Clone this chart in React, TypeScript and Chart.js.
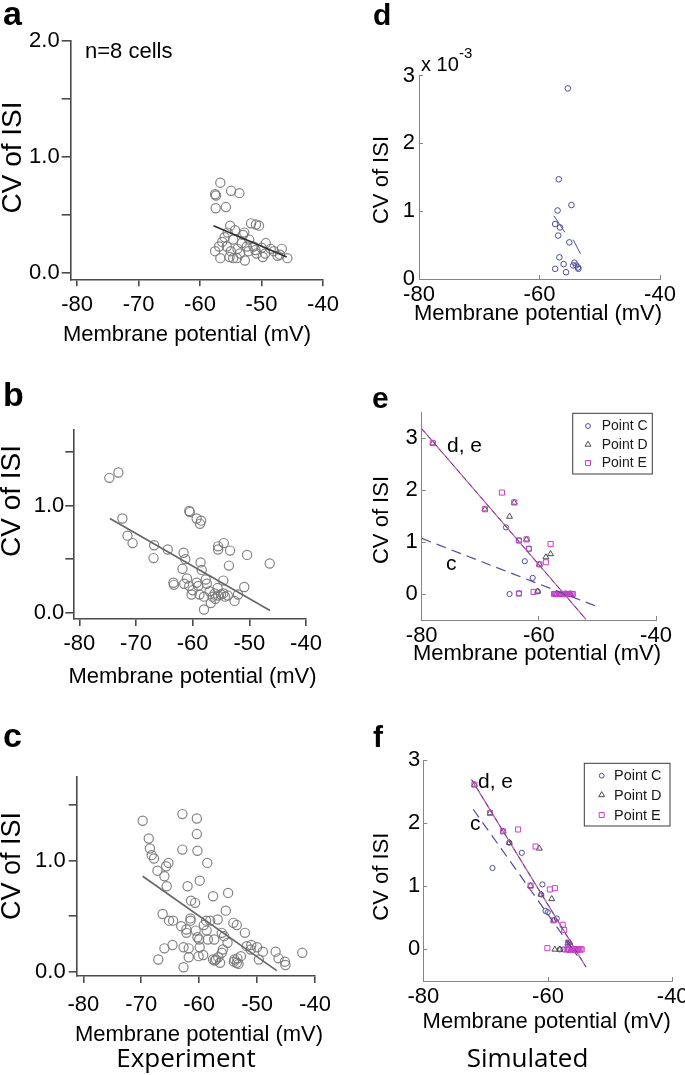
import { useEffect, useRef } from 'react';
import { Chart, registerables } from 'chart.js';
Chart.register(...registerables);

const SANS = '"Liberation Sans", Arial, Helvetica, sans-serif';
const HUMAN = '"Open Sans", "Noto Sans", sans-serif';

// ---------- tick values ----------
const EXP_X_TICKS = [-80, -70, -60, -50, -40];
const SIM_X_TICKS = [-80, -60, -40];
const A_Y_TICKS = [0, 0.5, 1, 1.5, 2];
const A_Y_LABELLED = [0, 1, 2];
const BC_Y_TICKS = [0, 0.5, 1, 1.5];
const BC_Y_LABELLED = [0, 1];
const D_Y_TICKS = [0, 1, 2, 3];
const EF_Y_TICKS = [0, 1, 2, 3];

// ---------- panel a (experiment, n=8 cells) ----------
const A_MV = [-56.7, -57.55, -57.4, -54.95, -53.6, -57.45, -55.8, -55.1, -51.7, -50.9, -50.4, -54.3, -52.8, -56.4, -54.6, -52.4, -51.3, -49.3, -57.55, -55.65, -53.9, -55.2, -53.5, -52.1, -50.8, -49.4, -48.5, -46.7, -45.8, -47.4, -56.7, -54.6, -52.7, -56.0, -53.0, -51.0, -48.0, -47.0, -55.0, -53.2, -50.0, -49.8, -56.9, -54.0, -55.5, -52.0];
const A_CV = [0.78, 0.68, 0.67, 0.71, 0.69, 0.56, 0.57, 0.41, 0.43, 0.42, 0.41, 0.37, 0.35, 0.27, 0.29, 0.23, 0.23, 0.26, 0.19, 0.23, 0.21, 0.14, 0.17, 0.19, 0.17, 0.17, 0.21, 0.21, 0.13, 0.15, 0.13, 0.13, 0.11, 0.31, 0.33, 0.20, 0.19, 0.16, 0.19, 0.26, 0.22, 0.14, 0.23, 0.13, 0.35, 0.29];
const A_FIT_MV = [-57.8, -45.9];
const A_FIT_CV = [0.41, 0.14];

// ---------- panel b ----------
const B_MV = [-74.7, -73.1, -72.4, -71.5, -70.6, -66.8, -66.9, -64.4, -61.6, -61.3, -61.8, -63.4, -63.3, -61.0, -60.6, -60.6, -60.5, -59.3, -58.5, -58.7, -58.6, -58.4, -57.7, -57.5, -59.3, -60.0, -60.2, -58.8, -58.0, -58.0, -56.8, -56.5, -56.1, -55.5, -55.6, -55.0, -54.6, -54.3, -53.8, -54.6, -55.5, -55.5, -54.5, -53.4, -53.6, -52.6, -52.0, -50.9, -50.4, -46.4, -57.0, -56.0, -61.5, -59.0];
const B_CV = [1.26, 1.31, 0.88, 0.72, 0.65, 0.63, 0.51, 0.59, 0.56, 0.50, 0.41, 0.28, 0.26, 0.32, 0.25, 0.95, 0.94, 0.88, 0.86, 0.83, 0.47, 0.40, 0.31, 0.27, 0.28, 0.21, 0.17, 0.17, 0.15, 0.03, 0.09, 0.15, 0.18, 0.16, 0.23, 0.17, 0.18, 0.15, 0.16, 0.30, 0.59, 0.62, 0.65, 0.58, 0.44, 0.11, 0.17, 0.24, 0.54, 0.46, 0.20, 0.13, 0.27, 0.25];
const B_FIT_MV = [-74.6, -46.35];
const B_FIT_CV = [0.88, 0.02];

// ---------- panel c ----------
const C_MV = [-69.75, -62.9, -60.4, -60.4, -68.7, -68.5, -68.2, -67.8, -62.9, -60.3, -58.6, -65.3, -65.7, -67.2, -66.0, -65.6, -59.9, -62.0, -57.6, -55.0, -61.4, -60.7, -55.4, -66.3, -65.2, -64.5, -63.1, -61.5, -61.5, -62.2, -62.2, -60.6, -58.8, -58.1, -59.2, -56.8, -58.7, -60.3, -60.0, -58.5, -57.4, -56.1, -55.7, -54.1, -53.5, -52.1, -55.1, -66.0, -64.6, -62.7, -61.8, -59.9, -67.05, -62.7, -61.8, -60.1, -59.3, -57.6, -57.1, -56.7, -56.1, -55.9, -56.4, -53.9, -53.5, -53.4, -52.8, -51.8, -51.0, -51.1, -50.0, -49.0, -49.7, -46.8, -46.3, -45.2, -45.1, -42.2, -53.2, -57.3, -54.0];
const C_CV = [1.36, 1.42, 1.38, 1.24, 1.20, 1.11, 1.05, 1.02, 1.10, 1.09, 0.98, 0.98, 0.95, 0.91, 0.86, 0.77, 0.82, 0.77, 0.68, 0.71, 0.64, 0.62, 0.55, 0.52, 0.46, 0.46, 0.41, 0.48, 0.46, 0.38, 0.35, 0.37, 0.46, 0.46, 0.42, 0.47, 0.37, 0.31, 0.29, 0.29, 0.29, 0.35, 0.32, 0.44, 0.42, 0.35, 0.26, 0.21, 0.24, 0.22, 0.21, 0.22, 0.11, 0.04, 0.13, 0.14, 0.15, 0.11, 0.11, 0.13, 0.17, 0.20, 0.08, 0.11, 0.08, 0.12, 0.14, 0.23, 0.24, 0.20, 0.22, 0.18, 0.11, 0.18, 0.12, 0.09, 0.06, 0.17, 0.07, 0.10, 0.09];
const C_FIT_MV = [-69.75, -46.6];
const C_FIT_CV = [0.86, 0.01];

// ---------- panel d (simulated, CV in units of 1e-3) ----------
const D_MV = [-55.3, -56.8, -54.7, -57.0, -57.4, -56.6, -56.9, -55.05, -56.7, -56.0, -57.4, -55.6, -54.2, -53.9, -53.55, -54.4, -53.6];
const D_CV = [2.81, 1.47, 1.09, 1.01, 0.81, 0.76, 0.64, 0.54, 0.32, 0.22, 0.15, 0.10, 0.24, 0.20, 0.15, 0.20, 0.17];
const D_FIT1_MV = [-57.6, -55.8];
const D_FIT1_CV = [0.93, 0.69];
const D_FIT2_MV = [-54.4, -53.2];
const D_FIT2_CV = [0.58, 0.37];

// ---------- panel e ----------
const E_C_MV = [-65.6, -63.4, -61.7, -62.4, -61.05, -65.0, -63.4, -60.2, -57.2, -56.4, -55.6, -54.8];
const E_C_CV = [1.28, 1.03, 0.87, 0.63, 0.31, 0, 0.01, 0.05, 0, 0, 0, 0];
const E_D_MV = [-78.1, -69.2, -64.2, -65.0, -62.1, -59.9, -58.8, -58.0, -60.2, -57.0, -56.2, -55.4, -54.6];
const E_D_CV = [2.90, 1.63, 1.76, 1.49, 1.05, 0.57, 0.71, 0.77, 0.05, 0, 0, 0, 0];
const E_E_MV = [-78.1, -69.2, -66.3, -64.2, -63.4, -62.1, -61.7, -59.9, -58.8, -58.0, -63.4, -60.9, -57.4, -57.2, -57.0, -56.8, -56.6, -56.4, -56.2, -56.0, -55.8, -55.6, -55.4, -55.2, -55.0, -54.8, -54.6, -54.4, -54.2];
const E_E_CV = [2.90, 1.63, 1.95, 1.76, 1.03, 1.05, 0.87, 0.57, 0.61, 0.96, 0.01, 0.04, 0, 0, 0, 0, 0, 0, 0, 0, 0, 0, 0, 0, 0, 0, 0, 0, 0];
const E_FIT_DE_MV = [-80, -51.95];
const E_FIT_DE_CV = [3.18, -0.49];
const E_FIT_C_MV = [-80, -50.1];
const E_FIT_C_CV = [1.07, -0.24];

// ---------- panel f ----------
const F_C_MV = [-66.2, -64.2, -68.9, -60.9, -61.1, -60.4, -60.05, -58.6, -58.1, -57.5, -56.8, -56.0];
const F_C_CV = [1.69, 1.53, 1.29, 1.03, 0.87, 0.61, 0.59, 0.49, 0, 0, 0, 0];
const F_D_MV = [-71.8, -69.3, -67.2, -66.2, -61.4, -62.8, -61.1, -59.4, -59.1, -56.8, -56.5, -58.9, -58.1, -56.3, -55.5];
const F_D_CV = [2.61, 2.16, 1.87, 1.69, 1.60, 1.01, 0.87, 0.80, 0.46, 0.10, 0.11, 0, 0, 0, 0];
const F_E_MV = [-71.8, -69.3, -67.2, -64.8, -62.0, -62.8, -59.7, -58.9, -59.1, -57.65, -57.4, -56.8, -60.1, -57.0, -56.8, -56.6, -56.4, -56.2, -56.0, -55.8, -55.6, -55.4, -55.2, -55.0, -54.8, -54.6];
const F_E_CV = [2.61, 2.16, 1.87, 1.90, 1.63, 1.01, 0.95, 0.97, 0.46, 0.39, 0.31, 0.10, 0.02, 0, 0, 0, 0, 0, 0, 0, 0, 0, 0, 0, 0, 0];
const F_FIT_DE_MV = [-72.25, -53.9];
const F_FIT_DE_CV = [2.69, -0.28];
const F_FIT_C_MV = [-72.0, -55.3];
const F_FIT_C_CV = [2.22, -0.1];

const LEGEND_LABELS = ['Point C', 'Point D', 'Point E'];
const X_TITLE = 'Membrane potential (mV)';
const Y_TITLE = 'CV of ISI';

// ---------- helpers ----------
const zip = (xs: number[], ys: number[]) => xs.map((x, i) => ({ x, y: ys[i] }));

const COL_C = '#4b4b9c';
const COL_D = '#4a4a4a';
const COL_E = '#cc3fcc';

const expPoints = (xs: number[], ys: number[]) => ({
  data: zip(xs, ys),
  pointStyle: 'circle',
  pointRadius: 4.6,
  pointBorderWidth: 1.2,
  pointBorderColor: 'rgba(118,118,118,0.9)',
  pointBackgroundColor: 'rgba(0,0,0,0)',
  showLine: false,
  order: 2,
});

const simPoints = (label: string, xs: number[], ys: number[], style: string, color: string, r: number, order: number) => ({
  label,
  data: zip(xs, ys),
  pointStyle: style,
  pointRadius: r,
  pointBorderWidth: 1,
  pointBorderColor: color,
  pointBackgroundColor: 'rgba(0,0,0,0)',
  showLine: false,
  order,
});

const lineDs = (xs: number[], ys: number[], color: string, width: number, dash: number[] = [], order = 0) => ({
  data: zip(xs, ys),
  showLine: true,
  borderColor: color,
  borderWidth: width,
  borderDash: dash,
  pointRadius: 0,
  fill: false,
  tension: 0,
  order,
});

type Txt = {
  t: string; x: number; y: number; size: number; bold?: boolean; family?: string;
  align?: CanvasTextAlign; base?: CanvasTextBaseline; rot?: number; color?: string;
};
type LegendSpec = { x1: number; y1: number; x2: number; y2: number; rows: number[]; markX: number; textX: number; size: number };
type PanelSpec = {
  cx: number; cy: number; cw: number; ch: number;
  L: number; T: number; R: number; B: number;
  xMin: number; xMax: number; xTicks: number[];
  yMin: number; yMax: number; yTicks: number[]; yFmt: (v: number) => string;
  matlab: boolean;
  xPad: number; yPad: number; xTick: number; yTick: number;
  datasets: any[];
  texts: Txt[];
  legend?: LegendSpec;
};

const YW = 45;
const XH = 40;

function drawMarker(ctx: CanvasRenderingContext2D, style: string, x: number, y: number, color: string) {
  ctx.save();
  ctx.strokeStyle = color;
  ctx.lineWidth = 1;
  ctx.beginPath();
  if (style === 'circle') {
    ctx.arc(x, y, 2.4, 0, Math.PI * 2);
  } else if (style === 'triangle') {
    const r = 3.4;
    ctx.moveTo(x, y - r);
    ctx.lineTo(x + r * 0.866, y + r * 0.5);
    ctx.lineTo(x - r * 0.866, y + r * 0.5);
    ctx.closePath();
  } else {
    ctx.rect(x - 2.5, y - 2.5, 5, 5);
  }
  ctx.stroke();
  ctx.restore();
}

function overlay(spec: PanelSpec) {
  return {
    id: 'overlay',
    afterDraw(chart: any) {
      const ctx: CanvasRenderingContext2D = chart.ctx;
      const ox = spec.cx;
      const oy = spec.cy;
      ctx.save();
      for (const t of spec.texts) {
        ctx.save();
        ctx.font = `${t.bold ? 'bold ' : ''}${t.size}px ${t.family ?? SANS}`;
        ctx.fillStyle = t.color ?? '#000';
        ctx.textAlign = t.align ?? 'left';
        ctx.textBaseline = t.base ?? 'alphabetic';
        ctx.translate(t.x - ox, t.y - oy);
        if (t.rot) ctx.rotate(t.rot);
        ctx.fillText(t.t, 0, 0);
        ctx.restore();
      }
      const lg = spec.legend;
      if (lg) {
        ctx.fillStyle = '#fff';
        ctx.fillRect(lg.x1 - ox, lg.y1 - oy, lg.x2 - lg.x1, lg.y2 - lg.y1);
        ctx.strokeStyle = '#3a3a3a';
        ctx.lineWidth = 1;
        ctx.strokeRect(lg.x1 - ox, lg.y1 - oy, lg.x2 - lg.x1, lg.y2 - lg.y1);
        const items = chart.data.datasets.filter((d: any) => d.label);
        items.forEach((d: any, i: number) => {
          const y = lg.rows[i] - oy;
          drawMarker(ctx, d.pointStyle, lg.markX - ox, y, d.pointBorderColor);
          ctx.fillStyle = '#1a1a1a';
          ctx.font = `${lg.size}px ${SANS}`;
          ctx.textAlign = 'left';
          ctx.textBaseline = 'middle';
          ctx.fillText(d.label, lg.textX - ox, y + 0.5);
        });
      }
      ctx.restore();
    },
  };
}

function makeConfig(spec: PanelSpec) {
  const axisColor = spec.matlab ? '#858585' : '#4a4a4a';
  const axisWidth = spec.matlab ? 1 : 1.6;
  const tickFont = { family: SANS, size: 22 };
  return {
    type: 'scatter',
    data: { datasets: spec.datasets },
    options: {
      animation: false,
      responsive: false,
      events: [],
      layout: {
        padding: {
          left: spec.L - spec.cx - YW,
          top: spec.T - spec.cy,
          right: spec.cx + spec.cw - spec.R,
          bottom: spec.cy + spec.ch - spec.B - XH,
        },
      },
      plugins: { legend: { display: false }, tooltip: { enabled: false }, title: { display: false } },
      scales: {
        x: {
          type: 'linear',
          position: 'bottom',
          min: spec.xMin,
          max: spec.xMax,
          afterBuildTicks: (sc: any) => { sc.ticks = spec.xTicks.map((v) => ({ value: v })); },
          afterFit: (sc: any) => { sc.height = XH; sc.paddingLeft = 0; sc.paddingRight = 0; },
          border: { display: true, color: axisColor, width: axisWidth },
          grid: { display: true, drawOnChartArea: false, drawTicks: true, tickLength: spec.xTick, color: axisColor, tickColor: axisColor, lineWidth: axisWidth, tickWidth: axisWidth },
          ticks: { autoSkip: false, maxRotation: 0, minRotation: 0, padding: spec.xPad, color: '#000', font: tickFont, callback: (v: any) => String(v) },
        },
        y: {
          type: 'linear',
          position: 'left',
          min: spec.yMin,
          max: spec.yMax,
          afterBuildTicks: (sc: any) => { sc.ticks = spec.yTicks.map((v) => ({ value: v })); },
          afterFit: (sc: any) => { sc.width = YW; sc.paddingTop = 0; sc.paddingBottom = 0; },
          border: { display: true, color: axisColor, width: axisWidth },
          grid: { display: true, drawOnChartArea: false, drawTicks: true, tickLength: spec.yTick, color: axisColor, tickColor: axisColor, lineWidth: axisWidth, tickWidth: axisWidth },
          ticks: { autoSkip: false, padding: spec.yPad, color: '#000', font: tickFont, callback: (v: any) => spec.yFmt(Number(v)) },
        },
      },
    },
    plugins: [overlay(spec)],
  };
}

const ROT = -Math.PI / 2;
const fmtExp = (lab: number[]) => (v: number) => (lab.some((l) => Math.abs(l - v) < 1e-9) ? v.toFixed(1) : '');
const fmtInt = (v: number) => String(v);

const PANELS: PanelSpec[] = [
  // a
  {
    cx: 0, cy: 0, cw: 340, ch: 355,
    L: 70.7, T: 41, R: 323, B: 279.3,
    xMin: -81.03, xMax: -40, xTicks: EXP_X_TICKS,
    yMin: -0.052, yMax: 2.0, yTicks: A_Y_TICKS, yFmt: fmtExp(A_Y_LABELLED),
    matlab: false, xPad: 5, yPad: 2, xTick: 7, yTick: 9,
    datasets: [lineDs(A_FIT_MV, A_FIT_CV, '#2e2e2e', 1.6), expPoints(A_MV, A_CV)],
    texts: [
      { t: 'a', x: 3, y: 25, size: 34, bold: true },
      { t: 'n=8 cells', x: 85, y: 58, size: 22 },
      { t: Y_TITLE, x: 13, y: 157.5, size: 28, align: 'center', base: 'middle', rot: ROT },
      { t: X_TITLE, x: 187, y: 341, size: 22, align: 'center' },
    ],
  },
  // b
  {
    cx: 0, cy: 355, cw: 340, ch: 350,
    L: 73.3, T: 430, R: 306, B: 619,
    xMin: -81.06, xMax: -40, xTicks: EXP_X_TICKS,
    yMin: -0.059, yMax: 1.707, yTicks: BC_Y_TICKS, yFmt: fmtExp(BC_Y_LABELLED),
    matlab: false, xPad: 5, yPad: 1, xTick: 7, yTick: 8,
    datasets: [lineDs(B_FIT_MV, B_FIT_CV, '#666666', 1.6), expPoints(B_MV, B_CV)],
    texts: [
      { t: 'b', x: 3, y: 406, size: 34, bold: true },
      { t: Y_TITLE, x: 12.7, y: 501, size: 28, align: 'center', base: 'middle', rot: ROT },
      { t: X_TITLE, x: 192.5, y: 683, size: 22, align: 'center' },
    ],
  },
  // c
  {
    cx: 0, cy: 705, cw: 340, ch: 370,
    L: 76.7, T: 776.7, R: 315, B: 976,
    xMin: -81.14, xMax: -40, xTicks: EXP_X_TICKS,
    yMin: -0.039, yMax: 1.757, yTicks: BC_Y_TICKS, yFmt: fmtExp(BC_Y_LABELLED),
    matlab: false, xPad: 9, yPad: 3, xTick: 7, yTick: 8,
    datasets: [lineDs(C_FIT_MV, C_FIT_CV, '#666666', 1.6), expPoints(C_MV, C_CV)],
    texts: [
      { t: 'c', x: 3, y: 747, size: 34, bold: true },
      { t: Y_TITLE, x: 12.5, y: 866, size: 27, align: 'center', base: 'middle', rot: ROT },
      { t: X_TITLE, x: 199, y: 1041, size: 22, align: 'center' },
      { t: 'Experiment', x: 186, y: 1067, size: 26, family: HUMAN, align: 'center' },
    ],
  },
  // d
  {
    cx: 340, cy: 0, cw: 345, ch: 355,
    L: 419, T: 75.5, R: 660, B: 279,
    xMin: -80, xMax: -40, xTicks: SIM_X_TICKS,
    yMin: 0, yMax: 3, yTicks: D_Y_TICKS, yFmt: fmtInt,
    matlab: true, xPad: 7, yPad: 8, xTick: -4, yTick: -4,
    datasets: [
      lineDs(D_FIT1_MV, D_FIT1_CV, COL_C, 1),
      lineDs(D_FIT2_MV, D_FIT2_CV, COL_C, 1),
      simPoints('', D_MV, D_CV, 'circle', COL_C, 2.8, 1),
    ],
    texts: [
      { t: 'd', x: 373, y: 25, size: 30, bold: true },
      { t: 'x 10', x: 421, y: 71, size: 20 },
      { t: '-3', x: 459, y: 58, size: 15 },
      { t: Y_TITLE, x: 381.7, y: 180, size: 22, align: 'center', base: 'middle', rot: ROT },
      { t: X_TITLE, x: 538, y: 320, size: 22, align: 'center' },
    ],
  },
  // e
  {
    cx: 340, cy: 355, cw: 345, ch: 350,
    L: 421.7, T: 412, R: 656, B: 620,
    xMin: -80, xMax: -40, xTicks: SIM_X_TICKS,
    yMin: -0.5, yMax: 3.5, yTicks: EF_Y_TICKS, yFmt: fmtInt,
    matlab: true, xPad: 7, yPad: 8, xTick: -4, yTick: -4,
    datasets: [
      lineDs(E_FIT_DE_MV, E_FIT_DE_CV, '#555555', 1, [5, 4], 0),
      lineDs(E_FIT_DE_MV, E_FIT_DE_CV, '#c455c4', 1.2, [], 1),
      lineDs(E_FIT_C_MV, E_FIT_C_CV, COL_C, 1.2, [10, 6], 1),
      simPoints(LEGEND_LABELS[0], E_C_MV, E_C_CV, 'circle', COL_C, 2.6, 5),
      simPoints(LEGEND_LABELS[1], E_D_MV, E_D_CV, 'triangle', COL_D, 3.4, 4),
      simPoints(LEGEND_LABELS[2], E_E_MV, E_E_CV, 'rect', COL_E, 3.6, 3),
    ],
    texts: [
      { t: 'e', x: 372, y: 408, size: 30, bold: true },
      { t: 'd, e', x: 447, y: 452, size: 21 },
      { t: 'c', x: 446, y: 570, size: 21 },
      { t: Y_TITLE, x: 381.7, y: 520, size: 22, align: 'center', base: 'middle', rot: ROT },
      { t: X_TITLE, x: 537, y: 660, size: 22, align: 'center' },
    ],
    legend: { x1: 572.7, y1: 413.3, x2: 652.3, y2: 474, rows: [426, 444.5, 463], markX: 588, textX: 601.7, size: 14 },
  },
  // f
  {
    cx: 340, cy: 705, cw: 345, ch: 370,
    L: 423.3, T: 760, R: 672.7, B: 981,
    xMin: -80, xMax: -40, xTicks: SIM_X_TICKS,
    yMin: -0.5, yMax: 3.0, yTicks: EF_Y_TICKS, yFmt: fmtInt,
    matlab: true, xPad: 7, yPad: 7, xTick: -4, yTick: -4,
    datasets: [
      lineDs(F_FIT_DE_MV, F_FIT_DE_CV, '#555555', 1, [5, 4], 0),
      lineDs(F_FIT_DE_MV, F_FIT_DE_CV, '#c455c4', 1.2, [], 1),
      lineDs(F_FIT_C_MV, F_FIT_C_CV, COL_C, 1.2, [10, 6], 1),
      simPoints(LEGEND_LABELS[0], F_C_MV, F_C_CV, 'circle', COL_C, 2.6, 5),
      simPoints(LEGEND_LABELS[1], F_D_MV, F_D_CV, 'triangle', COL_D, 3.4, 4),
      simPoints(LEGEND_LABELS[2], F_E_MV, F_E_CV, 'rect', COL_E, 3.6, 3),
    ],
    texts: [
      { t: 'f', x: 373, y: 747, size: 30, bold: true },
      { t: 'd, e', x: 478, y: 788, size: 21 },
      { t: 'c', x: 470, y: 830, size: 21 },
      { t: Y_TITLE, x: 381.7, y: 876.7, size: 22, align: 'center', base: 'middle', rot: ROT },
      { t: X_TITLE, x: 546.7, y: 1028, size: 22, align: 'center' },
      { t: 'Simulated', x: 527.5, y: 1067, size: 26, family: HUMAN, align: 'center' },
    ],
    legend: { x1: 584.3, y1: 763.3, x2: 670, y2: 826, rows: [775.7, 795, 815], markX: 601.7, textX: 614, size: 14.5 },
  },
];

function Panel({ spec }: { spec: PanelSpec }) {
  const ref = useRef<HTMLCanvasElement | null>(null);
  useEffect(() => {
    if (!ref.current) return;
    const chart = new Chart(ref.current, makeConfig(spec) as any);
    return () => chart.destroy();
  }, [spec]);
  return (
    <canvas
      ref={ref}
      width={spec.cw}
      height={spec.ch}
      style={{ position: 'absolute', left: spec.cx, top: spec.cy, width: spec.cw, height: spec.ch }}
    />
  );
}

export default function App() {
  return (
    <div style={{ position: 'absolute', left: 0, top: 0, width: 685, height: 1075, background: '#ffffff', overflow: 'hidden' }}>
      {PANELS.map((p, i) => (
        <Panel key={i} spec={p} />
      ))}
    </div>
  );
}
